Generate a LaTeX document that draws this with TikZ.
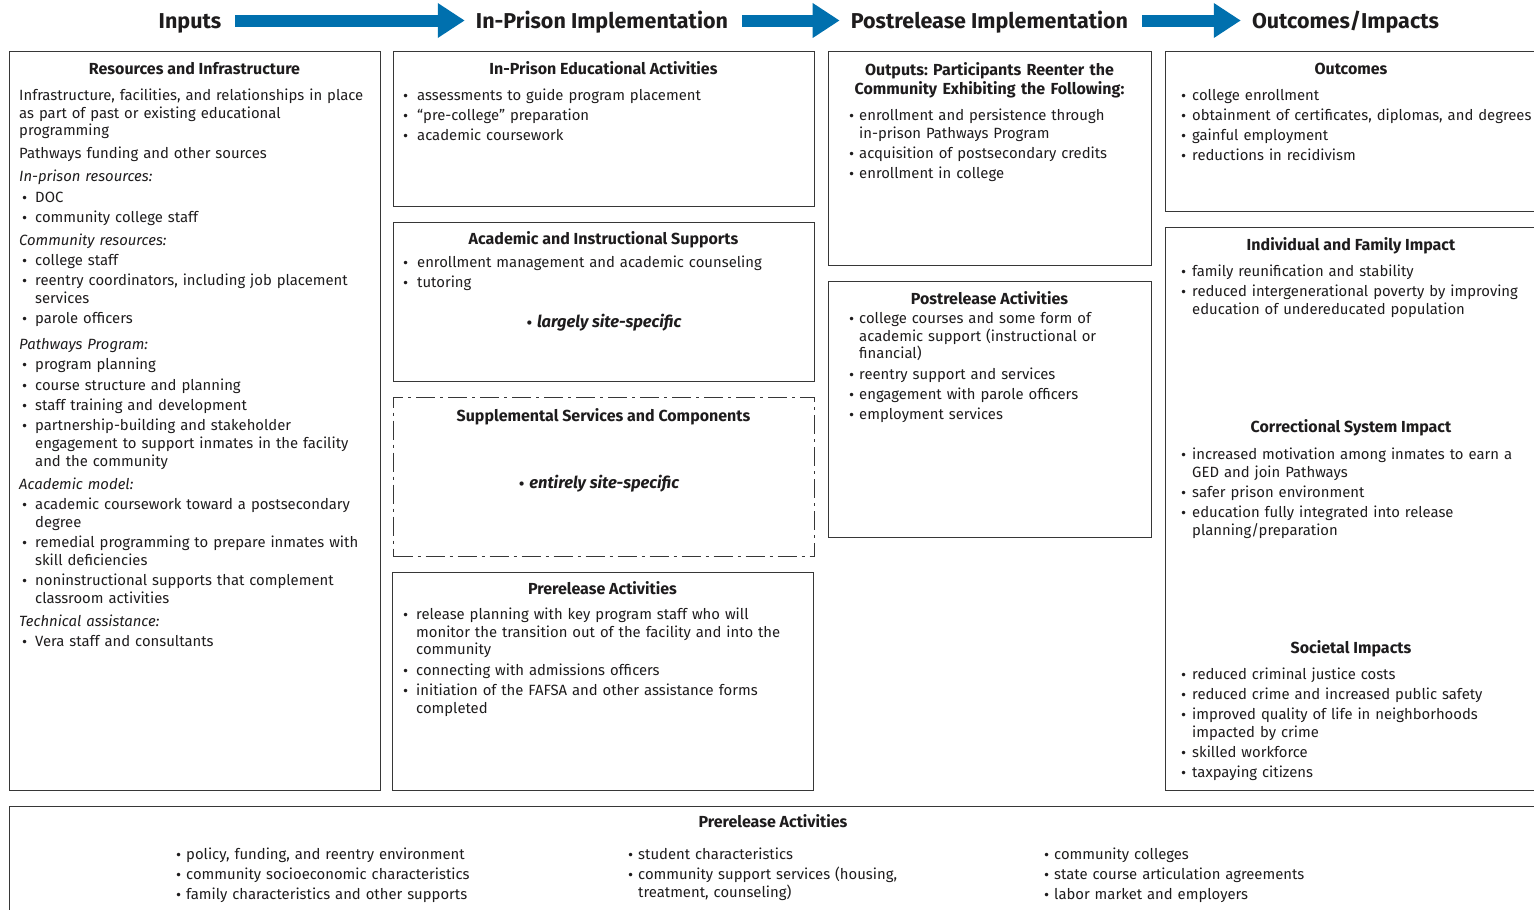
\documentclass[tikz,border=0pt]{standalone}
\usepackage{fontspec}
\setmainfont{Fira Sans}
\newfontfamily\bulfont{DejaVu Sans}
\usetikzlibrary{arrows.meta}
\definecolor{arrowblue}{RGB}{0,112,174}
\definecolor{boxc}{RGB}{55,55,55}
\definecolor{txtc}{RGB}{30,28,29}
\frenchspacing
\newlength\boff \newlength\bind
\newcommand\bsym{{\bulfont\fontsize{12}{12}\selectfont •}}
\newcommand\bo{\hangindent=\bind\hangafter=1\noindent\hbox to\bind{\hskip\boff\bsym\hfil}}
\newcommand\bu{\par\bo}
\newcommand\nl{\hfil\break}
\newcommand\hd[1]{\par\vspace{2.8pt}\noindent\textit{#1}}
\newcommand\pp{\par\vspace{2.8pt}\noindent}
\newcommand\st{\rule{0pt}{12pt}}
\tikzset{
  box/.style={draw=boxc, line width=1.3pt, anchor=north west, inner sep=0pt},
  dbox/.style={box, dash pattern=on 19pt off 5pt on 3pt off 5pt},
  hdr/.style={font=\bfseries\fontsize{21.5}{24}\selectfont, anchor=base, inner sep=0pt, text height=19pt, text depth=4pt, text=txtc},
  hdarrow/.style={draw=arrowblue, line width=12pt, -{Triangle[length=27pt,width=33pt]}, shorten <=14pt, shorten >=11pt},
  ttl/.style={font=\bfseries\fontsize{16}{19}\selectfont, anchor=base, inner sep=0pt, text=txtc},
  body/.style={font=\fontsize{14.85}{17.8}\selectfont, anchor=north west, inner sep=0pt, align=left, text=txtc},
  bul/.style 2 args={execute at begin node={\setlength\boff{#1}\setlength\bind{#2}\setlength\parskip{2.4pt}}},
  note/.style={font=\bfseries\itshape\fontsize{16.5}{18}\selectfont, anchor=base, inner sep=0pt, text=txtc}
}
\begin{document}
\begin{tikzpicture}[x=1pt,y=-1pt]
\useasboundingbox (0,0) rectangle (1534,910);
% headers
\node[hdr] (hin) at (190,28) {Inputs};
\node[hdr] (hpr) at (602,28) {In-Prison Implementation};
\node[hdr] (hpo) at (989.5,28) {Postrelease Implementation};
\node[hdr] (hou) at (1345.5,28) {Outcomes/Impacts};
\draw[hdarrow] (hin.east) -- (hpr.west);
\draw[hdarrow] (hpr.east) -- (hpo.west);
\draw[hdarrow] (hpo.east) -- (hou.west);
% boxes
\node[box, minimum width=371pt, minimum height=739pt] (res) at (9,51) {};
\node[box, minimum width=421pt, minimum height=155pt] (edu) at (393,51) {};
\node[box, minimum width=421pt, minimum height=159pt] (aca) at (393,222) {};
\node[dbox, minimum width=421pt, minimum height=159pt] (sup) at (393,397) {};
\node[box, minimum width=421pt, minimum height=218pt] (pre) at (392,572) {};
\node[box, minimum width=323pt, minimum height=214pt] (out) at (828,51) {};
\node[box, minimum width=323pt, minimum height=256pt] (post) at (828,281) {};
\node[box, minimum width=372pt, minimum height=160pt] (oc) at (1165,51) {};
\node[box, minimum width=372pt, minimum height=563pt] (imp) at (1165,227) {};
\node[box, minimum width=1528pt, minimum height=120pt] (ctx) at (9,806) {};
% column 1
\node[ttl] (resT) at (194.5,74) {Resources and Infrastructure};
\node[body, bul={2pt}{16pt}, text width=358pt] (resB) at (19,88) {%
\noindent\st Infrastructure, facilities, and relationships in place\nl as part of past or existing educational\nl programming
\pp Pathways funding and other sources
\hd{In-prison resources:}
\bu DOC
\bu community college staff
\hd{Community resources:}
\bu college staff
\bu reentry coordinators, including job placement\nl services
\bu parole officers
\par\vspace{3pt}\hd{Pathways Program:}
\bu program planning
\bu course structure and planning
\bu staff training and development
\bu partnership-building and stakeholder\nl engagement to support inmates in the facility\nl and the community
\hd{Academic model:}
\bu academic coursework toward a postsecondary\nl degree
\bu remedial programming to prepare inmates with\nl skill deficiencies
\bu noninstructional supports that complement\nl classroom activities
\hd{Technical assistance:}
\bu Vera staff and consultants\par};
% column 2
\node[ttl] (eduT) at (603.5,74) {In-Prison Educational Activities};
\node[body, bul={2pt}{17pt}, text width=412pt] (eduB) at (400,88) {%
\bo\st assessments to guide program placement
\bu “pre-college” preparation
\bu academic coursework\par};
\node[ttl] (acaT) at (603.5,244) {Academic and Instructional Supports};
\node[body, bul={2pt}{17pt}, text width=412pt] (acaB) at (400,255) {%
\bo\st enrollment management and academic counseling
\bu tutoring\par};
\node[note] (acaN) at (603.5,327) {\bsym\ largely site-specific};
\node[ttl] (supT) at (603.5,421) {Supplemental Services and Components};
\node[note] (supN) at (598.5,488) {\bsym\ entirely site-specific};
\node[ttl] (preT) at (602.5,594) {Prerelease Activities};
\node[body, bul={2pt}{16pt}, text width=412pt] (preB) at (400,607) {%
\bo\st release planning with key program staff who will\nl monitor the transition out of the facility and into the\nl community
\bu connecting with admissions officers
\bu initiation of the FAFSA and other assistance forms\nl completed\par};
% column 3
\node[ttl, anchor=north, text width=318pt, align=center] (outT) at (989.5,62) {\st Outputs: Participants Reenter the\\ Community Exhibiting the Following:};
\node[body, bul={2pt}{13pt}, text width=300pt] (outB) at (846,108) {%
\bo\st enrollment and persistence through\nl in-prison Pathways Program
\bu acquisition of postsecondary credits
\bu enrollment in college\par};
\node[ttl] (postT) at (989.5,304) {Postrelease Activities};
\node[body, bul={2pt}{13pt}, text width=300pt] (postB) at (846,311) {%
\bo\st college courses and some form of\nl academic support (instructional or\nl financial)
\bu reentry support and services
\bu engagement with parole officers
\bu employment services\par};
% column 4
\node[ttl] (ocT) at (1351,74) {Outcomes};
\node[body, bul={2pt}{14pt}, text width=366pt] (ocB) at (1178,88) {%
\bo\st college enrollment
\bu obtainment of certificates, diplomas, and degrees
\bu gainful employment
\bu reductions in recidivism\par};
\node[ttl] (indT) at (1351,250) {Individual and Family Impact};
\node[body, bul={2pt}{14pt}, text width=360pt] (indB) at (1178,264) {%
\bo\st family reunification and stability
\bu reduced intergenerational poverty by improving\nl education of undereducated population\par};
\node[ttl] (corT) at (1351,432) {Correctional System Impact};
\node[body, bul={2pt}{14pt}, text width=360pt] (corB) at (1178,447) {%
\bo\st increased motivation among inmates to earn a\nl GED and join Pathways
\bu safer prison environment
\bu education fully integrated into release\nl planning/preparation\par};
\node[ttl] (socT) at (1351,653) {Societal Impacts};
\node[body, bul={2pt}{14pt}, text width=360pt] (socB) at (1178,667) {%
\bo\st reduced criminal justice costs
\bu reduced crime and increased public safety
\bu improved quality of life in neighborhoods\nl impacted by crime
\bu skilled workforce
\bu taxpaying citizens\par};
% bottom
\node[ttl] (ctxT) at (773,827) {Prerelease Activities};
\node[body, bul={2pt}{13pt}, text width=400pt] (ctxA) at (173,847) {%
\bo\st policy, funding, and reentry environment
\bu community socioeconomic characteristics
\bu family characteristics and other supports\par};
\node[body, bul={2pt}{13pt}, text width=400pt] (ctxB) at (625,847) {%
\bo\st student characteristics
\bu community support services (housing,\nl treatment, counseling)\par};
\node[body, bul={2pt}{13pt}, text width=400pt] (ctxC) at (1041,847) {%
\bo\st community colleges
\bu state course articulation agreements
\bu labor market and employers\par};
\end{tikzpicture}
\end{document}
